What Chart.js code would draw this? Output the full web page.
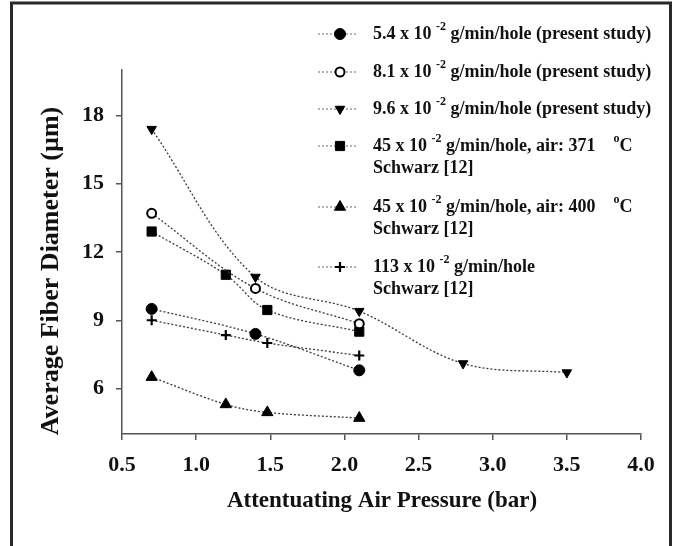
<!DOCTYPE html>
<html><head><meta charset="utf-8">
<script src="https://cdn.jsdelivr.net/npm/chart.js@4/dist/chart.umd.min.js"></script>
<style>html,body{margin:0;padding:0;background:#fff;}#wrap{width:676px;height:546px;position:relative;}</style>
</head><body><div id="wrap"><canvas id="c" width="676" height="546"></canvas></div>
<script>
// ---- data ----
const xTickValues = [0.5, 1.0, 1.5, 2.0, 2.5, 3.0, 3.5, 4.0];
const yTickValues = [6, 9, 12, 15, 18];
const xS1 = [0.7, 1.4, 2.1];            const yS1 = [9.5, 8.4, 6.8];
const xS2 = [0.7, 1.4, 2.1];            const yS2 = [13.7, 10.4, 8.85];
const xS3 = [0.7, 1.4, 2.1, 2.8, 3.5];  const yS3 = [17.4, 10.9, 9.4, 7.1, 6.7];
const xS4 = [0.7, 1.2, 1.48, 2.1];      const yS4 = [12.9, 11.0, 9.45, 8.5];
const xS5 = [0.7, 1.2, 1.48, 2.1];      const yS5 = [6.5, 5.3, 4.95, 4.7];
const xS6 = [0.7, 1.2, 1.48, 2.1];      const yS6 = [9.0, 8.35, 8.0, 7.45];
const seriesNames = [
  "5.4 x 10 ^{-2} g/min/hole (present study)",
  "8.1 x 10 ^{-2} g/min/hole (present study)",
  "9.6 x 10 ^{-2} g/min/hole (present study)",
  "45 x 10 ^{-2} g/min/hole, air: 371    ^{o}C\nSchwarz [12]",
  "45 x 10 ^{-2} g/min/hole, air: 400    ^{o}C\nSchwarz [12]",
  "113 x 10 ^{-2} g/min/hole\nSchwarz [12]"
];
const xTitle = "Attentuating Air Pressure (bar)";
const yTitle = "Average Fiber Diameter (\u00b5m)";

const FONT = "'Liberation Serif', 'Times New Roman', serif";
const pts = (xs, ys) => xs.map((x, i) => ({x: x, y: ys[i]}));

const styles = [
  {pointStyle: 'circle', pointRadius: 5.5, pointBackgroundColor: '#000', pointBorderWidth: 1, pointRotation: 0},
  {pointStyle: 'circle', pointRadius: 4.5, pointBackgroundColor: '#fff', pointBorderWidth: 2, pointRotation: 0},
  {pointStyle: 'triangle', pointRadius: 5.5, pointBackgroundColor: '#000', pointBorderWidth: 1, pointRotation: 180},
  {pointStyle: 'rect', pointRadius: 6.5, pointBackgroundColor: '#000', pointBorderWidth: 1, pointRotation: 0},
  {pointStyle: 'triangle', pointRadius: 6.5, pointBackgroundColor: '#000', pointBorderWidth: 1, pointRotation: 0},
  {pointStyle: 'cross', pointRadius: 5, pointBackgroundColor: '#000', pointBorderWidth: 2.2, pointRotation: 0}
];
const seriesData = [pts(xS1,yS1), pts(xS2,yS2), pts(xS3,yS3), pts(xS4,yS4), pts(xS5,yS5), pts(xS6,yS6)];

const datasets = seriesData.map((d, i) => Object.assign({
  label: seriesNames[i].replace(/\^\{([^}]*)\}/g, '$1'),
  data: d,
  showLine: true,
  borderColor: '#3a3a3a',
  borderWidth: 1.3,
  borderDash: [2, 2],
  tension: 0.35,
  pointBorderColor: '#000',
  pointHoverRadius: 0,
  fill: false
}, styles[i]));

function drawRich(ctx, str, x, y, size) {
  const parts = str.split(/(\^\{[^}]*\})/);
  let cx = x;
  for (const p of parts) {
    if (!p) continue;
    const m = p.match(/^\^\{([^}]*)\}$/);
    if (m) {
      ctx.font = 'bold ' + Math.round(size * 0.68) + 'px ' + FONT;
      ctx.fillText(m[1], cx, y - size * 0.42);
      cx += ctx.measureText(m[1]).width;
    } else {
      ctx.font = 'bold ' + size + 'px ' + FONT;
      ctx.fillText(p, cx, y);
      cx += ctx.measureText(p).width;
    }
  }
}

const decorPlugin = {
  id: 'decor',
  afterDraw(chart) {
    const ctx = chart.ctx;
    ctx.save();
    // frame
    ctx.strokeStyle = '#2a2a2a';
    ctx.lineWidth = 3;
    ctx.beginPath();
    ctx.moveTo(11.5, 560); ctx.lineTo(11.5, 3); ctx.lineTo(670.5, 3); ctx.lineTo(670.5, 560);
    ctx.stroke();
    // axis titles
    ctx.fillStyle = '#111';
    ctx.textAlign = 'center';
    ctx.textBaseline = 'middle';
    ctx.font = 'bold 23px ' + FONT;
    ctx.fillText(xTitle, 382, 501);
    ctx.save();
    ctx.translate(51, 271);
    ctx.rotate(-Math.PI / 2);
    ctx.font = 'bold 26px ' + FONT;
    ctx.fillText(yTitle, 0, 0);
    ctx.restore();
    // legend
    const rowY = [34, 72, 109, 146, 207, 267];
    const lineGap = 22;
    ctx.textAlign = 'left';
    ctx.textBaseline = 'middle';
    chart.data.datasets.forEach((ds, i) => {
      const y = rowY[i];
      ctx.save();
      ctx.strokeStyle = '#666';
      ctx.lineWidth = 1.1;
      ctx.setLineDash([2, 2]);
      ctx.beginPath(); ctx.moveTo(318, y); ctx.lineTo(358, y); ctx.stroke();
      ctx.restore();
      ctx.save();
      ctx.fillStyle = ds.pointBackgroundColor;
      ctx.strokeStyle = '#000';
      ctx.lineWidth = ds.pointBorderWidth;
      Chart.helpers.drawPoint(ctx, {pointStyle: ds.pointStyle, radius: ds.pointRadius, rotation: ds.pointRotation, borderWidth: ds.pointBorderWidth}, 340, y);
      ctx.restore();
      ctx.fillStyle = '#111';
      seriesNames[i].split('\n').forEach((ln, k) => drawRich(ctx, ln, 373, y + k * lineGap, 18));
    });
    ctx.restore();
  }
};

const tickFontX = {family: FONT, weight: 'bold', size: 22};
const tickFontY = {family: FONT, weight: 'bold', size: 22};

new Chart(document.getElementById('c'), {
  type: 'scatter',
  data: {datasets: datasets},
  options: {
    responsive: false,
    animation: false,
    devicePixelRatio: 1,
    layout: {padding: {left: 0, right: 35, top: 70, bottom: 0}},
    plugins: {legend: {display: false}, tooltip: {enabled: false}},
    scales: {
      x: {
        type: 'linear', min: 0.5, max: 4.0,
        afterBuildTicks: s => { s.ticks = xTickValues.map(v => ({value: v})); },
        afterFit: s => { s.height = 112; },
        ticks: {callback: v => Number(v).toFixed(1), font: tickFontX, color: '#111', padding: 12, maxRotation: 0, autoSkip: false},
        grid: {drawOnChartArea: false, drawTicks: true, tickLength: 6, color: '#555', lineWidth: 1.5},
        border: {display: true, color: '#555', width: 1.5}
      },
      y: {
        type: 'linear', min: 4, max: 20,
        afterBuildTicks: s => { s.ticks = yTickValues.map(v => ({value: v})); },
        afterFit: s => { s.width = 122; },
        ticks: {callback: v => String(v), font: tickFontY, color: '#111', padding: 12, autoSkip: false},
        grid: {drawOnChartArea: false, drawTicks: true, tickLength: 6, color: '#555', lineWidth: 1.5},
        border: {display: true, color: '#555', width: 1.5}
      }
    }
  },
  plugins: [decorPlugin]
});
</script>
</body></html>
